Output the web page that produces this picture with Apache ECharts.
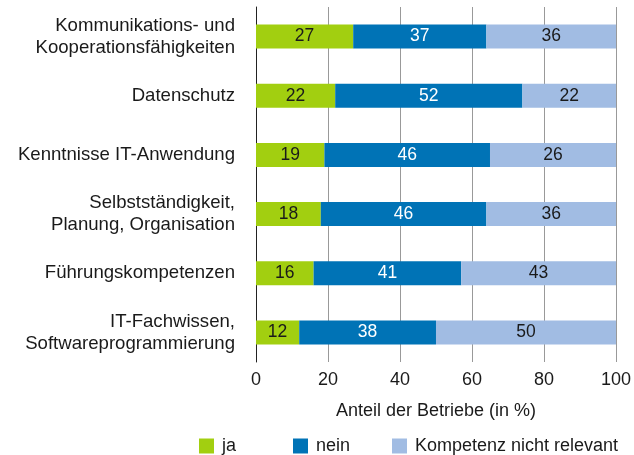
<!DOCTYPE html>
<html>
<head>
<meta charset="utf-8">
<script src="https://cdn.jsdelivr.net/npm/echarts@6/dist/echarts.min.js"></script>
<style>
  html, body { margin: 0; padding: 0; background: #fff; }
  #main { width: 634px; height: 455px; }
</style>
</head>
<body>
<div id="main"></div>
<script>
// Kategorien von oben nach unten
var kategorien = [
	'Kommunikations- und\nKooperationsfähigkeiten',
	'Datenschutz',
	'Kenntnisse IT-Anwendung',
	'Selbstständigkeit,\nPlanung, Organisation',
	'Führungskompetenzen',
	'IT-Fachwissen,\nSoftwareprogrammierung'
];
var ja = [27, 22, 19, 18, 16, 12];
var nein = [37, 52, 46, 46, 41, 38];
// Balkenlänge (reicht jeweils bis 100)
var nichtRelevantBalken = [36, 26, 35, 36, 43, 50];
// beschriftete Werte
var nichtRelevantWerte = [36, 22, 26, 36, 43, 50];
var xTicks = [0, 20, 40, 60, 80, 100];

var farbeJa = '#a2cf10';
var farbeNein = '#0073b6';
var farbeNR = '#a1bce3';
var schrift = '"Liberation Sans", Arial, Helvetica, sans-serif';

var myChart = echarts.init(document.getElementById('main'));

function balkenLabel(farbe, texte) {
	return {
		show: true,
		position: 'inside',
		color: farbe,
		fontSize: 17.5,
		fontFamily: schrift,
		formatter: function (p) {
			return texte ? texte[p.dataIndex] : p.value;
		}
	};
}

var option = {
	animation: false,
	backgroundColor: '#fff',
	textStyle: { fontFamily: schrift },
	grid: { left: 256, right: 16, top: 7, bottom: 93, containLabel: false },
	legend: [
		{ data: ['ja'], left: 199, top: 437 },
		{ data: ['nein'], left: 293, top: 437 },
		{ data: ['Kompetenz nicht relevant'], left: 392, top: 437 }
	].map(function (l) {
		l.itemWidth = 15;
		l.itemHeight = 15;
		l.icon = 'rect';
		l.padding = 0;
		l.textStyle = { fontSize: 18, color: '#1a1a1a', fontFamily: schrift, padding: [0, 0, 0, 3] };
		return l;
	}),
	xAxis: {
		type: 'value',
		min: 0,
		max: 100,
		interval: 20,
		name: 'Anteil der Betriebe (in %)',
		nameLocation: 'middle',
		nameGap: 40,
		nameTextStyle: { fontSize: 18, color: '#1a1a1a', fontFamily: schrift },
		axisLine: { show: false },
		axisTick: { show: false },
		axisLabel: {
			fontSize: 18, color: '#1a1a1a', margin: 9, fontFamily: schrift,
			formatter: function (v) { return xTicks.indexOf(v) >= 0 ? v : ''; }
		},
		splitLine: { show: true, lineStyle: { color: '#999', width: 1 } }
	},
	yAxis: {
		type: 'category',
		inverse: true,
		data: kategorien,
		axisLine: { show: true, lineStyle: { color: '#222', width: 1 } },
		axisTick: { show: false },
		axisLabel: {
			fontSize: 18.6, color: '#1a1a1a', margin: 21, lineHeight: 22,
			align: 'right', fontFamily: schrift
		}
	},
	series: [
		{
			name: 'ja', type: 'bar', stack: 'a', barWidth: 24,
			itemStyle: { color: farbeJa },
			label: balkenLabel('#1a1a1a'),
			data: ja
		},
		{
			name: 'nein', type: 'bar', stack: 'a', barWidth: 24,
			itemStyle: { color: farbeNein },
			label: balkenLabel('#fff'),
			data: nein
		},
		{
			name: 'Kompetenz nicht relevant', type: 'bar', stack: 'a', barWidth: 24,
			itemStyle: { color: farbeNR },
			label: balkenLabel('#1a1a1a', nichtRelevantWerte),
			data: nichtRelevantBalken
		}
	]
};

myChart.setOption(option);
</script>
</body>
</html>
